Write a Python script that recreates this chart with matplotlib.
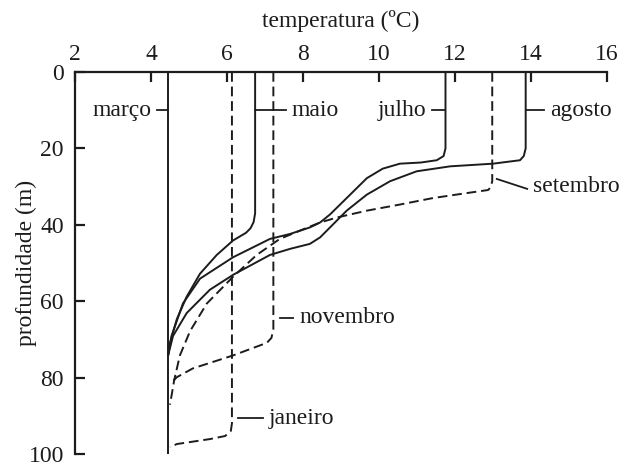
import matplotlib.pyplot as plt

plt.rcParams['font.family'] = ['Liberation Serif', 'DejaVu Serif']

# Temperature profiles (temperature in ºC, depth in m)
marco_t = [4.45, 4.45]
marco_d = [0, 100]

maio_t = [6.74, 6.74, 6.70, 6.62, 6.50, 6.16, 5.73, 5.29, 4.94, 4.68, 4.50, 4.45]
maio_d = [0, 37.0, 39.3, 40.9, 42.1, 44.1, 47.9, 52.8, 58.8, 64.7, 70.9, 74.2]

julho_t = [11.75, 11.75, 11.70, 11.52, 11.10, 10.55, 10.10, 9.68, 9.15, 8.71,
           8.45, 8.18, 7.66, 7.13, 6.16, 5.29, 4.84, 4.54, 4.45]
julho_d = [0, 20.0, 22.0, 23.1, 23.7, 24.0, 25.3, 27.8, 33.0, 37.3,
           39.4, 40.7, 42.4, 43.7, 48.5, 54.1, 60.6, 69.1, 74.2]

agosto_t = [13.86, 13.86, 13.81, 13.71, 13.00, 11.87, 10.99, 10.29, 9.68, 9.15,
            8.71, 8.45, 8.18, 7.66, 7.13, 6.16, 5.55, 4.94, 4.58, 4.45]
agosto_d = [0, 20.0, 22.0, 23.1, 24.0, 24.7, 26.0, 28.6, 32.1, 36.3,
            40.7, 43.3, 45.0, 46.3, 47.9, 53.1, 57.0, 63.1, 69.1, 74.2]

setembro_t = [12.98, 12.98, 12.94, 12.87, 12.31, 11.42, 10.55, 9.68, 8.89, 8.45,
              8.00, 7.39, 6.78, 6.16, 5.47, 5.03, 4.76, 4.61, 4.50]
setembro_d = [0, 28.6, 30.2, 30.9, 31.7, 33.0, 34.7, 36.3, 38.1, 39.4,
              41.2, 43.7, 47.9, 53.6, 60.6, 67.8, 74.2, 80.7, 87.1]

novembro_t = [7.22, 7.22, 7.17, 7.05, 6.16, 5.10, 4.68, 4.55]
novembro_d = [0, 67.3, 69.6, 70.9, 74.2, 77.6, 79.9, 81.2]

janeiro_t = [6.13, 6.13, 6.10, 5.95, 5.55, 4.68, 4.50]
janeiro_d = [0, 92.0, 94.0, 95.3, 96.1, 97.4, 98.2]

fig = plt.figure(figsize=(6.34, 4.66), dpi=100)
ax = fig.add_axes([0.1183, 0.0258, 0.8391, 0.8197])

ink = '#1c1c1c'
lw = 1.4
solid = dict(color=ink, lw=lw, solid_capstyle='butt')
dashed = dict(color=ink, lw=lw, linestyle=(0, (5, 2.5)))

ax.plot(marco_t, marco_d, **solid)
ax.plot(maio_t, maio_d, **solid)
ax.plot(julho_t, julho_d, **solid)
ax.plot(agosto_t, agosto_d, **solid)
ax.plot(setembro_t, setembro_d, **dashed)
ax.plot(novembro_t, novembro_d, **dashed)
ax.plot(janeiro_t, janeiro_d, **dashed)

# month labels with short leader lines
fs = 17
lead = dict(color=ink, lw=1.3)
ax.plot([4.15, 4.45], [10, 10], **lead)
ax.text(4.0, 10, 'março', ha='right', va='center', fontsize=fs, color=ink)
ax.plot([6.74, 7.55], [10, 10], **lead)
ax.text(7.7, 10, 'maio', ha='left', va='center', fontsize=fs, color=ink)
ax.plot([11.4, 11.75], [10, 10], **lead)
ax.text(11.25, 10, 'julho', ha='right', va='center', fontsize=fs, color=ink)
ax.plot([13.86, 14.35], [10, 10], **lead)
ax.text(14.5, 10, 'agosto', ha='left', va='center', fontsize=fs, color=ink)
ax.plot([13.1, 13.9], [28.0, 30.6], **lead)
ax.text(14.05, 30.0, 'setembro', ha='left', va='center', fontsize=fs, color=ink)
ax.plot([7.4, 7.75], [64.4, 64.4], **lead)
ax.text(7.9, 64.4, 'novembro', ha='left', va='center', fontsize=fs, color=ink)
ax.plot([6.3, 6.95], [90.7, 90.7], **lead)
ax.text(7.1, 90.7, 'janeiro', ha='left', va='center', fontsize=fs, color=ink)

ax.set_xlim(2, 16)
ax.set_ylim(100, 0)
ax.set_xticks(range(2, 17, 2))
ax.set_yticks(range(0, 101, 20))
ax.xaxis.tick_top()
ax.xaxis.set_label_position('top')
ax.set_xlabel('temperatura (ºC)', fontsize=fs, color=ink, labelpad=12)
ax.set_ylabel('profundidade (m)', fontsize=fs, color=ink)
ax.yaxis.set_label_coords(-0.072, 0.5)

for side in ['right', 'bottom']:
    ax.spines[side].set_visible(False)
for side in ['top', 'left']:
    ax.spines[side].set_linewidth(1.6)
    ax.spines[side].set_color(ink)
ax.tick_params(axis='both', direction='in', length=7, width=1.6, color=ink,
               labelsize=fs, labelcolor=ink)
ax.tick_params(axis='x', pad=5)
ax.tick_params(axis='y', pad=8)

fig.savefig('out.png', dpi=100)
